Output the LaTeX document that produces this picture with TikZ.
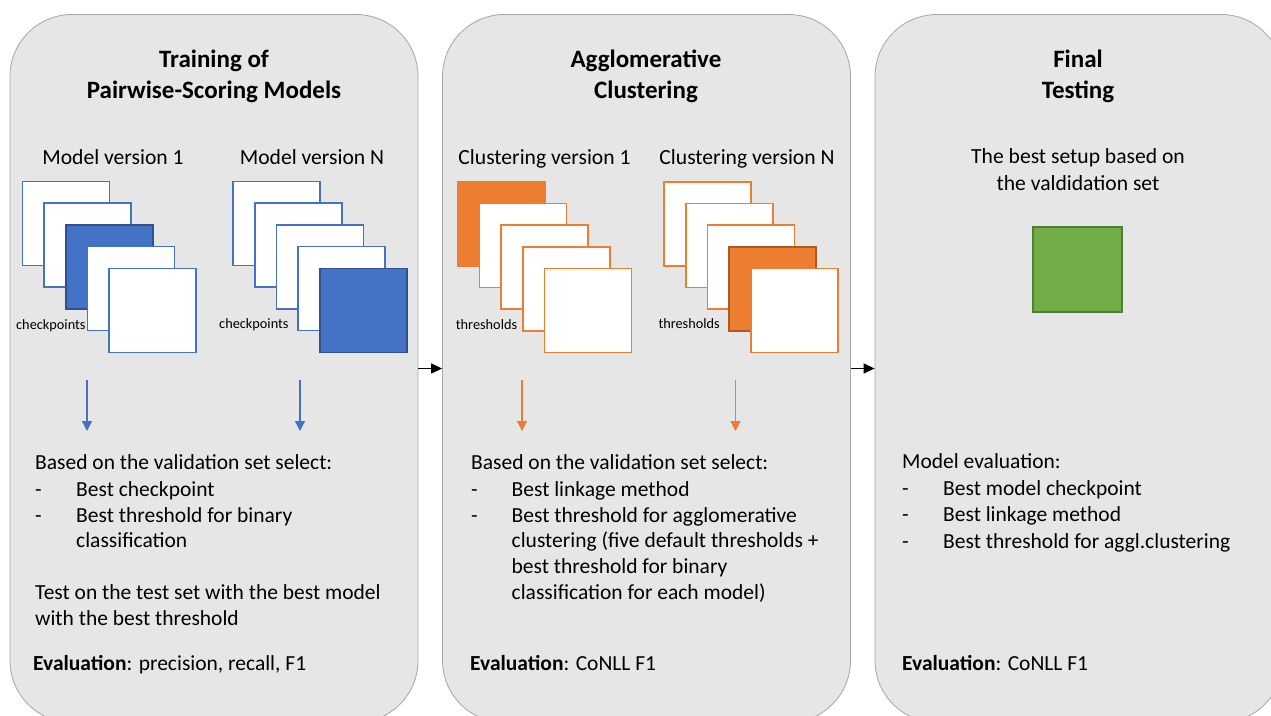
\documentclass[tikz,border=0pt]{standalone}
\usepackage{fontspec}
\setmainfont{Carlito}
\usetikzlibrary{arrows.meta}

\definecolor{panelfill}{HTML}{E6E6E6}
\definecolor{panelline}{HTML}{A6A6A6}
\definecolor{blueA}{HTML}{4472C4}
\definecolor{blueD}{HTML}{2F528F}
\definecolor{orangeA}{HTML}{ED7D31}
\definecolor{orangeD}{HTML}{AE5A21}
\definecolor{greenA}{HTML}{70AD47}
\definecolor{greenD}{HTML}{507E32}

\tikzset{
  panel/.style={draw=panelline, fill=panelfill, line width=0.8pt,
    rounded corners=62pt, minimum width=408pt, minimum height=708pt, inner sep=0pt},
  sheet/.style={line width=1.6pt, fill=white, minimum width=87pt,
    minimum height=84pt, inner sep=0pt},
  ttl/.style={anchor=base, inner sep=0pt, font=\bfseries\fontsize{25}{30}\selectfont},
  sub/.style={anchor=base, inner sep=0pt, font=\fontsize{21.6}{26}\selectfont},
  txt/.style={anchor=base west, inner sep=0pt, font=\fontsize{21.5}{26}\selectfont},
  tiny/.style={anchor=base west, inner sep=0pt, font=\fontsize{14.3}{17}\selectfont},
  flow/.style={line width=1.3pt, -{Triangle[width=10pt,length=11pt]}},
  down/.style={line width=1.3pt, -{Triangle[width=10pt,length=10pt]}},
}

% a stack of five sheets; #6 is the index of the highlighted one
\newcommand\sheetstack[6]{%
  \foreach \i in {0,...,4}{%
    \ifnum\i=#6\relax
      \node[sheet, draw=#5, fill=#4] (#1\i) at ({#2+21.7*\i},{#3+21.7*\i}) {};
    \else
      \node[sheet, draw=#4] (#1\i) at ({#2+21.7*\i},{#3+21.7*\i}) {};
    \fi
  }}

\begin{document}
\begin{tikzpicture}[x=1pt, y=-1pt]
\clip (0,0) rectangle (1271,715);
\fill[white] (0,0) rectangle (1271,715);

% the three stages
\node[panel] (p1) at (214,368.5) {};
\node[panel] (p2) at (646.5,368.5) {};
\node[panel] (p3) at (1079,368.5) {};

\draw[flow] (p1.east) -- (p2.west);
\draw[flow] (p2.east) -- (p3.west);

% ---------- stage 1 ----------
\node[ttl] (t1a) at (214,67) {Training of};
\node[ttl] (t1b) at (214,98) {Pairwise-Scoring Models};
\node[sub] (s1a) at (113,164) {Model version 1};
\node[sub] (s1b) at (312,164) {Model version N};

\sheetstack{ma}{65.9}{223.5}{blueA}{blueD}{2}
\sheetstack{mb}{276.5}{223.5}{blueA}{blueD}{4}
\node[tiny] (ck1) at (16,329) {checkpoints};
\node[tiny] (ck2) at (219,328) {checkpoints};

\coordinate (d1s) at (87,380);  \coordinate (d1e) at (87,431);
\coordinate (d2s) at (300,380); \coordinate (d2e) at (300,431);
\draw[down, blueA] (d1s) -- (d1e);
\draw[down, blueA] (d2s) -- (d2e);

\node[txt] (b1) at (35,469) {Based on the validation set select:};
\node[txt] (b1d1) at (35,496) {-};
\node[txt] (b1l1) at (76,496) {Best checkpoint};
\node[txt] (b1d2) at (35,522) {-};
\node[txt] (b1l2) at (76,522) {Best threshold for binary};
\node[txt] (b1l3) at (76,547.5) {classification};
\node[txt] (b1t1) at (35,599.5) {Test on the test set with the best model};
\node[txt] (b1t2) at (35,625.5) {with the best threshold};
\node[txt] (e1) at (33,670) {\textbf{Evaluation}: precision, recall, F1};

% ---------- stage 2 ----------
\node[ttl] (t2a) at (646,67) {Agglomerative};
\node[ttl] (t2b) at (646,98) {Clustering};
\node[sub] (s2a) at (544.5,164) {Clustering version 1};
\node[sub] (s2b) at (747,164) {Clustering version N};

\sheetstack{ca}{501.3}{223.7}{orangeA}{orangeA}{0}
\sheetstack{cb}{707.5}{223.7}{orangeA}{orangeD}{3}
\node[tiny] (th1) at (455.7,329) {thresholds};
\node[tiny] (th2) at (658.3,328) {thresholds};

\coordinate (d3s) at (522,380); \coordinate (d3e) at (522,431);
\coordinate (d4s) at (735.5,380); \coordinate (d4e) at (735.5,431);
\draw[down, orangeA] (d3s) -- (d3e);
\draw[down, orangeA] (d4s) -- (d4e);

\node[txt] (b2) at (471,469) {Based on the validation set select:};
\node[txt] (b2d1) at (471,496) {-};
\node[txt] (b2l1) at (511.5,496) {Best linkage method};
\node[txt] (b2d2) at (471,522) {-};
\node[txt] (b2l2) at (511.5,522) {Best threshold for agglomerative};
\node[txt] (b2l3) at (511.5,547.5) {clustering (five default thresholds +};
\node[txt] (b2l4) at (511.5,573.5) {best threshold for binary};
\node[txt] (b2l5) at (511.5,599) {classification for each model)};
\node[txt] (e2) at (470,670) {\textbf{Evaluation}: CoNLL F1};

% ---------- stage 3 ----------
\node[ttl] (t3a) at (1078,67) {Final};
\node[ttl] (t3b) at (1078,98) {Testing};
\node[sub] (s3a) at (1078,163) {The best setup based on};
\node[sub] (s3b) at (1078,190) {the valdidation set};

\node[sheet, draw=greenD, fill=greenA, minimum width=89pt, minimum height=85pt]
  (best) at (1077.7,269.7) {};

\node[txt] (b3) at (902,468.5) {Model evaluation:};
\node[txt] (b3d1) at (902,495) {-};
\node[txt] (b3l1) at (943,495) {Best model checkpoint};
\node[txt] (b3d2) at (902,521.5) {-};
\node[txt] (b3l2) at (943,521.5) {Best linkage method};
\node[txt] (b3d3) at (902,548) {-};
\node[txt] (b3l3) at (943,548) {Best threshold for aggl.clustering};
\node[txt] (e3) at (902,670) {\textbf{Evaluation}: CoNLL F1};
\end{tikzpicture}
\end{document}
